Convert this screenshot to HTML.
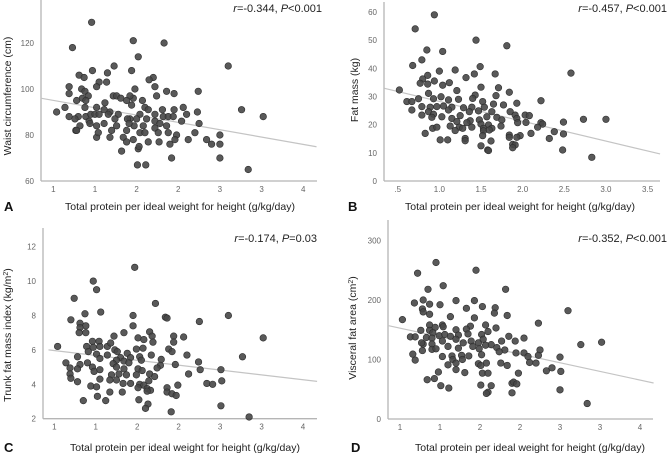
<!DOCTYPE html>
<html><head><meta charset="utf-8"><style>
html,body{margin:0;padding:0;background:#fff;}
svg{display:block;font-family:"Liberation Sans",Arial,sans-serif;}
</style></head><body>
<svg id="c" width="669" height="456" viewBox="0 0 669 456" xmlns="http://www.w3.org/2000/svg"></svg>
<script>
const xTickVals=[0.5,1,1.5,2,2.5,3,3.5];
const xTickLabA=["1","1","2","2","3","3","4"];
const xTickLabB=[".5","1.0","1.5","2.0","2.5","3.0","3.5"];
const yTicksA=[60,80,100,120];
const yTicksB=[0,10,20,30,40,50,60];
const yTicksC=[2,4,6,8,10,12];
const yTicksD=[0,100,200,300];
const lineA=[0.35,96,3.66,74.9];
const lineB=[0.34,32.9,3.65,9.6];
const lineC=[0.43,6.0,3.67,4.17];
const lineD=[0.35,157,3.67,60.5];
const aX=[0.96,1.46,1.83,0.73,1.52,2.6,0.97,1.23,1.44,1.15,0.81,0.87,1.7,1.65,1.05,1.02,1.14,0.69,1.72,1.86,1.95,2.24,0.69,0.84,0.88,0.92,0.78,0.85,0.89,1.74,1.48,1.46,1.42,1.22,1.26,1.31,1.38,1.12,1.57,1.44,1.11,1.02,0.64,0.54,0.88,1.18,1.28,1.6,1.64,1.54,1.5,1.42,1.81,1.95,2.06,2.1,2.23,1.72,0.8,0.89,0.95,1.0,1.05,0.69,0.76,0.93,1.16,1.24,1.39,1.47,1.62,1.72,1.82,1.88,1.94,2.04,2.25,3.02,2.76,0.82,0.94,1.11,1.26,1.41,1.58,1.72,1.78,1.86,0.77,1.02,1.2,1.38,1.54,1.6,1.76,1.88,1.98,2.2,2.34,2.5,2.5,1.02,1.18,1.34,1.38,1.46,1.64,1.77,1.9,1.96,2.12,2.4,1.32,1.52,1.53,1.92,2.5,1.51,1.61,2.84,0.78,1.04];
const aY=[129,121,120,118,114,110,108,110,108,107,106,105,105,104,103,101,103,101,101,99,98,99,98,100,99,97,95,96,95,97,100,96,97,97,97,96,95,94,95,93,91,92,92,90,92,90,89,92,91,89,87,87,91,91,92,89,90,89,88,88,89,89,89,88,87,86,89,87,87,84,87,86,88,88,88,86,85,88,91,84,85,85,84,85,84,83,85,84,82,84,82,82,81,81,81,81,80,81,78,80,76,79,79,79,77,78,77,77,76,78,78,76,73,74,75,70,70,67,67,65,82,81];
const bX=[0.94,0.71,1.44,1.81,0.85,1.04,0.79,0.68,1.49,1.19,1.0,2.58,1.42,1.67,0.86,1.32,0.8,0.94,0.77,1.12,1.04,0.86,1.5,1.71,0.52,1.21,0.87,1.43,1.68,1.84,0.75,0.93,1.02,1.11,1.23,1.4,1.52,0.61,0.67,1.93,2.22,1.77,0.79,0.89,0.97,1.05,1.15,1.29,1.39,1.54,1.65,0.67,0.87,0.93,1.11,1.36,1.47,1.63,1.85,1.91,2.03,2.08,0.79,0.91,1.03,1.25,1.57,1.69,1.93,2.73,3.0,1.15,1.37,1.48,1.75,1.21,1.33,1.5,1.59,1.94,2.04,2.22,2.49,2.24,1.13,1.24,1.39,1.53,1.63,1.74,2.18,0.92,0.97,1.19,1.28,1.53,1.6,2.38,0.83,2.1,2.49,1.52,1.84,1.97,1.93,1.84,1.31,2.32,1.01,1.1,1.31,1.62,1.5,1.88,1.91,1.88,1.58,1.59,2.48,2.83];
const bY=[59,54,50,48,46.5,46,43,41,40.6,39.4,39,38.3,38,38,37.5,36.7,36.2,35.5,34.7,34.9,34,34.4,33.3,33.1,32.3,32.1,31.1,30.5,30.3,31.5,29.2,29.2,29.9,28.8,29,29.3,28.2,28.2,28.2,27.6,28.5,27,26.4,26.2,26.4,26.6,26.2,26,26.2,26.2,27.3,25.2,24.6,23.7,25.2,24.6,24.9,24.6,24.6,23.4,23.4,23.2,23.4,22.6,22.8,23.2,22.8,22.6,22.2,21.9,21.9,22.2,21.4,21.7,21.7,21.1,20.7,20.2,19.9,20.7,20.8,20.7,20.9,20.2,19.5,19.1,19.1,18.7,18.7,19.5,19.1,18.7,19.1,17.9,18.7,17.8,18.1,17.5,16.9,16.9,16.7,16.1,16.3,16.1,15.5,15.5,15.1,15.1,14.6,14.6,14.3,14.2,12.5,13,12.8,11.8,11,10.8,11,8.4];
const cX=[1.47,0.97,1.01,0.74,1.72,1.06,0.87,1.45,0.7,1.84,1.86,2.25,2.6,0.81,0.88,1.45,0.81,0.8,0.88,1.34,1.65,1.68,1.94,2.06,1.22,3.02,0.96,1.04,1.51,1.58,1.14,1.18,1.69,1.94,0.54,0.89,0.97,1.05,1.23,1.26,1.38,1.49,1.57,1.88,1.92,0.91,1.01,1.14,1.3,1.42,1.53,1.67,2.1,2.77,0.78,1.05,1.25,1.34,1.55,1.79,0.64,0.9,2.24,1.21,1.4,1.78,1.96,0.81,0.78,0.69,0.96,0.98,1.05,1.25,1.34,1.51,1.56,1.74,2.26,2.51,1.19,1.28,1.37,1.49,1.65,1.71,0.69,0.7,2.12,1.17,1.25,1.05,0.78,1.42,1.53,1.58,1.64,2.52,1.33,1.99,2.34,2.41,0.94,1.01,1.51,1.62,1.86,1.66,1.17,1.32,1.62,1.86,1.92,1.97,1.02,0.85,1.12,1.52,1.63,2.51,1.6,1.91,2.85];
const cY=[10.8,10,9.5,9,8.7,8.2,8.1,8.0,7.75,7.9,7.85,7.65,8.0,7.55,7.4,7.4,7.3,7.0,7.0,7.0,7.05,6.8,6.8,6.75,6.8,6.7,6.5,6.5,6.7,6.6,6.2,6.4,6.45,6.45,6.2,6.2,6.15,6.2,6.0,5.9,5.8,6.05,6.1,6.05,5.9,5.9,5.75,5.7,5.55,5.55,5.6,5.7,5.7,5.6,5.6,5.5,5.4,5.35,5.4,5.45,5.25,5.25,5.3,5.2,5.25,5.1,5.15,5.15,4.9,4.95,5.0,4.75,4.85,5.0,4.9,4.9,4.8,4.95,4.85,4.85,4.55,4.6,4.55,4.55,4.6,4.45,4.6,4.35,4.6,4.25,4.25,4.3,4.15,4.05,4.0,3.95,4.2,4.2,4.05,3.95,4.05,4.0,3.9,3.85,3.8,3.75,3.8,3.65,3.55,3.55,3.6,3.55,3.45,3.35,3.3,3.05,3.05,3.1,2.85,2.75,2.6,2.4,2.1];
const dX=[0.95,0.72,1.45,1.82,0.85,1.04,2.6,0.68,0.79,0.87,1.0,1.2,1.43,1.53,1.33,1.69,0.78,0.79,0.87,1.13,1.84,1.43,1.68,2.23,0.53,0.87,0.94,1.03,1.04,0.76,0.87,1.38,1.57,1.7,0.91,1.2,1.33,0.63,0.69,0.83,0.9,0.99,1.06,1.13,1.23,1.35,1.52,1.6,1.86,2.05,0.79,0.9,1.03,1.2,1.29,1.39,1.48,1.54,1.64,1.77,1.94,0.77,0.9,0.95,1.1,1.23,1.41,1.49,1.57,1.71,1.81,1.95,2.05,2.25,2.76,3.02,0.66,0.78,1.03,1.15,1.27,1.36,1.52,1.74,2.1,2.23,2.5,0.69,1.16,1.28,1.48,1.58,1.76,1.84,2.12,2.2,1.1,1.2,1.51,1.2,1.31,1.53,1.6,1.98,2.33,2.4,2.51,0.98,0.84,0.93,1.01,1.11,1.51,1.64,1.9,1.92,1.96,1.6,1.58,1.9,2.5,2.84];
const dY=[263,245,250,218,218,224,182,195,200,193,192,199,199,189,186,187,185,180,176,172,174,170,178,161,167,158,154,158,155,149,149,156,158,153,145,150,151,138,138,137,136,140,142,139,141,143,142,147,139,136,126,126,131,134,128,131,128,134,125,131,131,128,117,118,122,119,122,118,124,120,116,111,111,116,125,129,109,115,105,106,107,106,108,113,105,107,104,99,100,100,93,94,94,90,95,94,91,94,90,83,78,77,77,77,81,86,80,79,66,68,56,52,57,56,60,62,59,45,43,44,49,26];

const NS="http://www.w3.org/2000/svg";
const svg=document.getElementById('c');
function mk(tag,attrs,parent){const e=document.createElementNS(NS,tag);for(const k in attrs)e.setAttribute(k,attrs[k]);(parent||svg).appendChild(e);return e;}

function panel(cfg){
  const g=mk('g',{});
  
  
  const sx=v=>cfg.x0+(v-0.5)*cfg.xs;
  const sy=v=>cfg.yb-(v-cfg.ymin)*cfg.ys;
  const ya=mk('line',{x1:cfg.ax,y1:cfg.top,x2:cfg.ax,y2:cfg.yb,stroke:'#b5b5b5','stroke-width':1.3},g);
  
  
  const xa=mk('line',{x1:cfg.ax,y1:cfg.yb,x2:cfg.xend,y2:cfg.yb,stroke:'#b5b5b5','stroke-width':1.3},g);
  
  
  cfg.yt.forEach(v=>{
    const t=mk('text',{x:cfg.ax-7,y:sy(v)+3,'text-anchor':'end','font-size':8,fill:'#666'},g);
    t.textContent=v;
    
    
  });
  xTickVals.forEach((v,i)=>{
    const t=mk('text',{x:sx(v),y:cfg.yb+11,'text-anchor':'middle','font-size':8,fill:'#666'},g);
    t.textContent=cfg.xl[i];
    
    
  });
  const L=cfg.line;
  const rl=mk('line',{x1:sx(L[0]),y1:sy(L[1]),x2:sx(L[2]),y2:sy(L[3]),stroke:'#c4c4c4','stroke-width':1.2},g);
  
  
  cfg.px.forEach((v,i)=>{
    const c=mk('circle',{cx:sx(v),cy:sy(cfg.py[i]),r:3.3,fill:'#474747',stroke:'#2e2e2e','stroke-width':0.6,'fill-opacity':0.9},g);
    
    
  });
  const yt=mk('text',{x:0,y:0,'text-anchor':'middle','font-size':10.5,fill:'#222',transform:`translate(${cfg.ytx},${cfg.yty}) rotate(-90)`},g);
  yt.innerHTML=cfg.ytitle;
  
  
  const xt=mk('text',{x:cfg.xtx,y:cfg.xty,'text-anchor':'middle','font-size':10.5,fill:'#222'},g);
  xt.textContent='Total protein per ideal weight for height (g/kg/day)';
  
  
  const st=mk('text',{x:cfg.stx,y:cfg.sty,'text-anchor':'end','font-size':11,fill:'#222'},g);
  st.innerHTML=cfg.stat;
  
  
  const lt=mk('text',{x:cfg.lx,y:cfg.xty+1,'font-size':13,'font-weight':'bold',fill:'#111'},g);
  lt.textContent=cfg.letter;
  
  
}

panel({name:'panel-a',x0:53.3,xs:83.3,ymin:60,ys:2.3,yb:181,ax:41,top:0,xend:317,yt:yTicksA,xl:xTickLabA,line:lineA,px:aX,py:aY,
  ytitle:'Waist circumference (cm)',ytx:11,yty:96,xtx:180,xty:210,stx:322,sty:12,
  stat:'<tspan font-style="italic">r</tspan>=-0.344, <tspan font-style="italic">P</tspan>&lt;0.001',letter:'A',lx:4});
panel({name:'panel-b',x0:397.7,xs:83.3,ymin:0,ys:2.817,yb:181,ax:384,top:2,xend:660,yt:yTicksB,xl:xTickLabB,line:lineB,px:bX,py:bY,
  ytitle:'Fat mass (kg)',ytx:358,yty:90,xtx:520,xty:210,stx:667,sty:12,
  stat:'<tspan font-style="italic">r</tspan>=-0.457, <tspan font-style="italic">P</tspan>&lt;0.001',letter:'B',lx:348});
panel({name:'panel-c',x0:54.3,xs:82.9,ymin:2,ys:17.2,yb:418.7,ax:43,top:228,xend:317,yt:yTicksC,xl:xTickLabA,line:lineC,px:cX,py:cY,
  ytitle:'Trunk fat mass index (kg/m<tspan baseline-shift="super" font-size="7">2</tspan>)',ytx:11,yty:335,xtx:185,xty:451,stx:317,sty:242,
  stat:'<tspan font-style="italic">r</tspan>=-0.174, <tspan font-style="italic">P</tspan>=0.03',letter:'C',lx:4});
panel({name:'panel-d',x0:400,xs:80,ymin:0,ys:0.595,yb:419,ax:388,top:220,xend:653,yt:yTicksD,xl:xTickLabA,line:lineD,px:dX,py:dY,
  ytitle:'Visceral fat area (cm<tspan baseline-shift="super" font-size="7">2</tspan>)',ytx:356,yty:328,xtx:530,xty:451,stx:667,sty:242,
  stat:'<tspan font-style="italic">r</tspan>=-0.352, <tspan font-style="italic">P</tspan>&lt;0.001',letter:'D',lx:351});
</script>
</body></html>
